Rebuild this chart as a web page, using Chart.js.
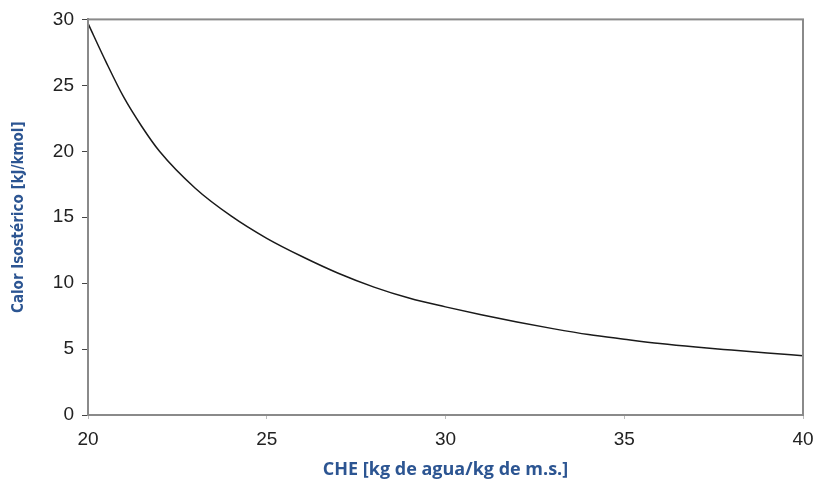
<!DOCTYPE html>
<html>
<head>
<meta charset="utf-8">
<script src="https://cdn.jsdelivr.net/npm/chart.js@4"></script>
<style>
  html, body { margin: 0; padding: 0; background: #fff; }
  #wrap { width: 819px; height: 487px; }
</style>
</head>
<body>
<div id="wrap"><canvas id="chartCalor" width="819" height="487"></canvas></div>
<script>
// valores
const che = [20, 20.5, 21, 21.5, 22, 23, 24, 25, 26, 27, 28, 29, 30, 31, 32, 33, 34, 35, 36, 37, 38, 39, 40];
const calor = [29.7, 26.8, 24.1, 21.9, 20.0, 17.2, 15.1, 13.4, 12.0, 10.75, 9.7, 8.85, 8.2, 7.6, 7.05, 6.55, 6.1, 5.75, 5.42, 5.15, 4.92, 4.7, 4.5];
const xTicks = [20, 25, 30, 35, 40];
const yTicks = [0, 5, 10, 15, 20, 25, 30];

const azul = "#2c5592";

/* marco completo alrededor del área del gráfico */
const marco = {
  id: "marco",
  afterDraw(chart) {
    const { ctx, chartArea: a } = chart;
    ctx.save();
    ctx.strokeStyle = "#8a8a8a";
    ctx.lineWidth = 2;
    ctx.strokeRect(a.left, a.top, a.right - a.left, a.bottom - a.top);
    ctx.restore();
  }
};

new Chart(document.getElementById("chartCalor"), {
  type: "line",
  data: {
    datasets: [{
      data: che.map((x, i) => ({ x, y: calor[i] })),
      borderColor: "#1a1a1a",
      borderWidth: 1.5,
      pointRadius: 0,
      cubicInterpolationMode: "monotone",
      fill: false
    }]
  },
  options: {
    responsive: false,
    animation: false,
    layout: { padding: { top: 10, right: 10, bottom: 4, left: 6 } },
    plugins: { legend: { display: false }, tooltip: { enabled: false } },
    scales: {
      x: {
        type: "linear",
        min: 20,
        max: 40,
        afterBuildTicks: s => { s.ticks = xTicks.map(v => ({ value: v })); },
        afterFit: s => { s.height = 68; s.paddingRight = 16; },
        grid: { drawOnChartArea: false, tickLength: 4, color: "#bbb" },
        border: { color: "#8a8a8a", width: 2 },
        ticks: { color: "#222", padding: 9, maxRotation: 0, font: { family: "Liberation Sans", size: 19 } },
        title: {
          display: true,
          text: "CHE [kg de agua/kg de m.s.]",
          color: azul,
          padding: { top: 4, bottom: 2 },
          font: { family: "Open Sans", size: 18, weight: "bold" }
        }
      },
      y: {
        min: 0,
        max: 30,
        afterBuildTicks: s => { s.ticks = yTicks.map(v => ({ value: v })); },
        afterFit: s => { s.width = 82; },
        grid: { drawOnChartArea: false, tickLength: 6, color: "#444" },
        border: { color: "#8a8a8a", width: 2 },
        ticks: { color: "#222", padding: 8, font: { family: "Liberation Sans", size: 19 } },
        title: {
          display: true,
          text: "Calor Isostérico [kJ/kmol]",
          color: azul,
          padding: { top: 4, bottom: 2 },
          font: { family: "DejaVu Sans Condensed, Liberation Sans", size: 15, weight: "bold" }
        }
      }
    }
  },
  plugins: [marco]
});
</script>
</body>
</html>
